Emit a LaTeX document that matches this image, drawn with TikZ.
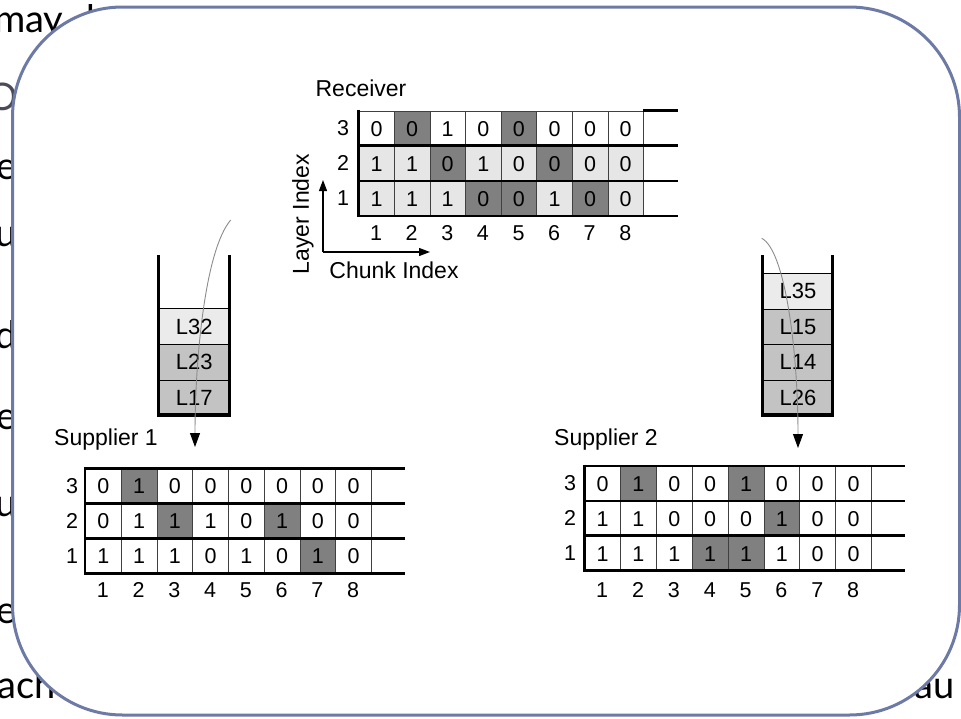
\documentclass[tikz,border=0pt]{standalone}
\usepackage{fontspec}
\setmainfont{Liberation Sans}
\newfontfamily\bgfont{Lato}
\usetikzlibrary{arrows.meta}
\definecolor{cD}{HTML}{808080}
\definecolor{cL}{HTML}{E6E6E6}
\definecolor{cW}{HTML}{FFFFFF}
\definecolor{stacklight}{HTML}{EBEBEB}
\definecolor{stackmid}{HTML}{C3C3C3}
\definecolor{framec}{HTML}{6E7AA6}
\definecolor{bggray}{HTML}{4A4A58}
\newcommand\mkrow[6]{%
  \foreach \f/\v [count=\i] in {#6} {
    \node[cellbox, fill=c\f, minimum width=#4pt, minimum height=#5pt,
          anchor=north west] (#1-\i) at ({#2+(\i-1)*#4},#3) {\v};
  }}
\begin{document}
\begin{tikzpicture}[x=1pt,y=-1pt,
  lbl/.style={inner sep=0pt, font=\fontsize{23}{26}\selectfont},
  dig/.style={inner sep=0pt, font=\fontsize{21.5}{24}\selectfont},
  bgtext/.style={inner sep=0pt, font=\bgfont\fontsize{38}{44}\selectfont},
  cellbox/.style={dig, draw=black!75, line width=0.8pt},
  thickline/.style={line width=2.8pt},
  wall/.style={line width=3.2pt, line join=miter},
  stackcell/.style={draw=black, line width=0.8pt, inner sep=0pt,
       font=\fontsize{22}{25}\selectfont, anchor=north west},
  flow/.style={draw=black!45, line width=0.9pt,
       -{Triangle[length=14pt,width=10pt,color=black,fill=black]}},
  axisarrow/.style={line width=1.2pt, -{Triangle[length=11pt,width=8pt]}},
]
\useasboundingbox (0,0) rectangle (961,718);

% background slide text (partly hidden by the frame)
\node[bgtext, anchor=base west] (bg1) at (-6,32) {may\hspace{13pt} be};
\node[bgtext, anchor=east, text=bggray] (bg2) at (18,97) {O};
\node[bgtext, anchor=east] (bg3) at (17,170) {e};
\node[bgtext, anchor=east] (bg4) at (17,237) {u};
\node[bgtext, anchor=east] (bg5) at (17,335) {d};
\node[bgtext, anchor=east] (bg6) at (17,420) {e};
\node[bgtext, anchor=east] (bg7) at (17,507) {u};
\node[bgtext, anchor=east] (bg8) at (17,614) {e};
\node[bgtext, anchor=base west] (bg9) at (-3,698) {ach};
\node[bgtext, anchor=base west] (bg10) at (914,698) {au};

% frame
\draw[draw=framec, line width=3pt, fill=white, rounded corners=110pt]
  (12.5,7) rectangle (959.5,715);

% ---------------- Receiver ----------------
\node[lbl] (rtitle) at (361,88) {Receiver};
\mkrow{R3}{358.3}{110.7}{35.6}{35.1}{W/0,D/0,W/1,W/0,D/0,W/0,W/0,W/0}
\mkrow{R2}{358.3}{145.8}{35.6}{35.1}{L/1,L/1,D/0,L/1,L/0,D/0,L/0,L/0}
\mkrow{R1}{358.3}{180.9}{35.6}{35.1}{L/1,L/1,L/1,D/0,D/0,L/1,D/0,L/0}
\draw[thickline] (643.3,110.7) -- (678,110.7);
\draw[thickline] (358.3,145.8) -- (678,145.8);
\draw[thickline] (358.3,180.9) -- (678,180.9);
\draw[thickline] (358.3,216) -- (678,216);
\draw[thickline] (358.3,109.5) -- (358.3,217.4);
\node[dig] (RL3) at (343,128.2) {3};
\node[dig] (RL2) at (343,163.3) {2};
\node[dig] (RL1) at (343,198.4) {1};
\foreach \i in {1,...,8} \node[dig] (RC\i) at ({358.3+(\i-0.5)*35.6},233) {\i};
\coordinate (ax0) at (323,252);
\coordinate (axY) at (323,180);
\coordinate (axX) at (430,252);
\draw[axisarrow] (ax0) -- (axY);
\draw[axisarrow] (ax0) -- (axX);
\node[lbl, rotate=90] (layer) at (303,214) {Layer Index};
\node[lbl] (chunk) at (394,270) {Chunk Index};

% ---------------- Supplier 1 ----------------
\node[lbl] (s1title) at (106,440) {Supplier 1};
\mkrow{A3}{85}{468.3}{35.75}{35}{W/0,D/1,W/0,W/0,W/0,W/0,W/0,W/0}
\mkrow{A2}{85}{503.3}{35.75}{35}{W/0,W/1,D/1,W/1,W/0,D/1,W/0,W/0}
\mkrow{A1}{85}{538.3}{35.75}{35}{W/1,W/1,W/1,W/0,W/1,W/0,D/1,W/0}
\foreach \yy in {468.3,503.3,538.3,573.3} \draw[thickline] (85,\yy) -- (405,\yy);
\draw[thickline] (85,466.9) -- (85,574.7);
\node[dig] (AL3) at (72,485.8) {3};
\node[dig] (AL2) at (72,520.8) {2};
\node[dig] (AL1) at (72,555.8) {1};
\foreach \i in {1,...,8} \node[dig] (AC\i) at ({85+(\i-0.5)*35.75},590) {\i};

% ---------------- Supplier 2 ----------------
\node[lbl] (s2title) at (606,440) {Supplier 2};
\mkrow{B3}{584.3}{466}{35.84}{34.9}{W/0,D/1,W/0,W/0,D/1,W/0,W/0,W/0}
\mkrow{B2}{584.3}{500.9}{35.84}{34.9}{W/1,W/1,W/0,W/0,W/0,D/1,W/0,W/0}
\mkrow{B1}{584.3}{535.8}{35.84}{34.9}{W/1,W/1,W/1,D/1,D/1,W/1,W/0,W/0}
\foreach \yy in {466,500.9,535.8,570.7} \draw[thickline] (584.3,\yy) -- (905,\yy);
\draw[thickline] (584.3,464.6) -- (584.3,572.1);
\node[dig] (BL3) at (570,483.5) {3};
\node[dig] (BL2) at (570,518.4) {2};
\node[dig] (BL1) at (570,553.3) {1};
\foreach \i in {1,...,8} \node[dig] (BC\i) at ({584.3+(\i-0.5)*35.84},590) {\i};

% ---------------- Stack 1 ----------------
\node[stackcell, fill=stacklight, minimum width=71pt, minimum height=35.6pt] (k32) at (158.3,308.3) {L32};
\node[stackcell, fill=stackmid, minimum width=71pt, minimum height=35.6pt] (k23) at (158.3,343.9) {L23};
\node[stackcell, fill=stackmid, minimum width=71pt, minimum height=35.6pt] (k17) at (158.3,379.5) {L17};
\draw[wall] (158.3,255) -- (158.3,415) -- (229.3,415) -- (229.3,255);

% ---------------- Stack 2 ----------------
\node[stackcell, fill=stacklight, minimum width=69.6pt, minimum height=35.4pt] (k35) at (762.7,273.3) {L35};
\node[stackcell, fill=stackmid, minimum width=69.6pt, minimum height=35.4pt] (k15) at (762.7,308.7) {L15};
\node[stackcell, fill=stackmid, minimum width=69.6pt, minimum height=35.4pt] (k14) at (762.7,344.1) {L14};
\node[stackcell, fill=stackmid, minimum width=69.6pt, minimum height=35.4pt] (k26) at (762.7,379.5) {L26};
\draw[wall] (762.7,255) -- (762.7,415) -- (832.3,415) -- (832.3,255);

% ---------------- flows ----------------
\coordinate (f1s) at (230.7,220);
\coordinate (f1e) at (195,447);
\draw[flow] (f1s) .. controls (205,250) and (195,360) .. (f1e);
\coordinate (f2s) at (761.7,238.3);
\coordinate (f2e) at (798,448);
\draw[flow] (f2s) .. controls (785,250) and (798,350) .. (f2e);
\end{tikzpicture}
\end{document}
